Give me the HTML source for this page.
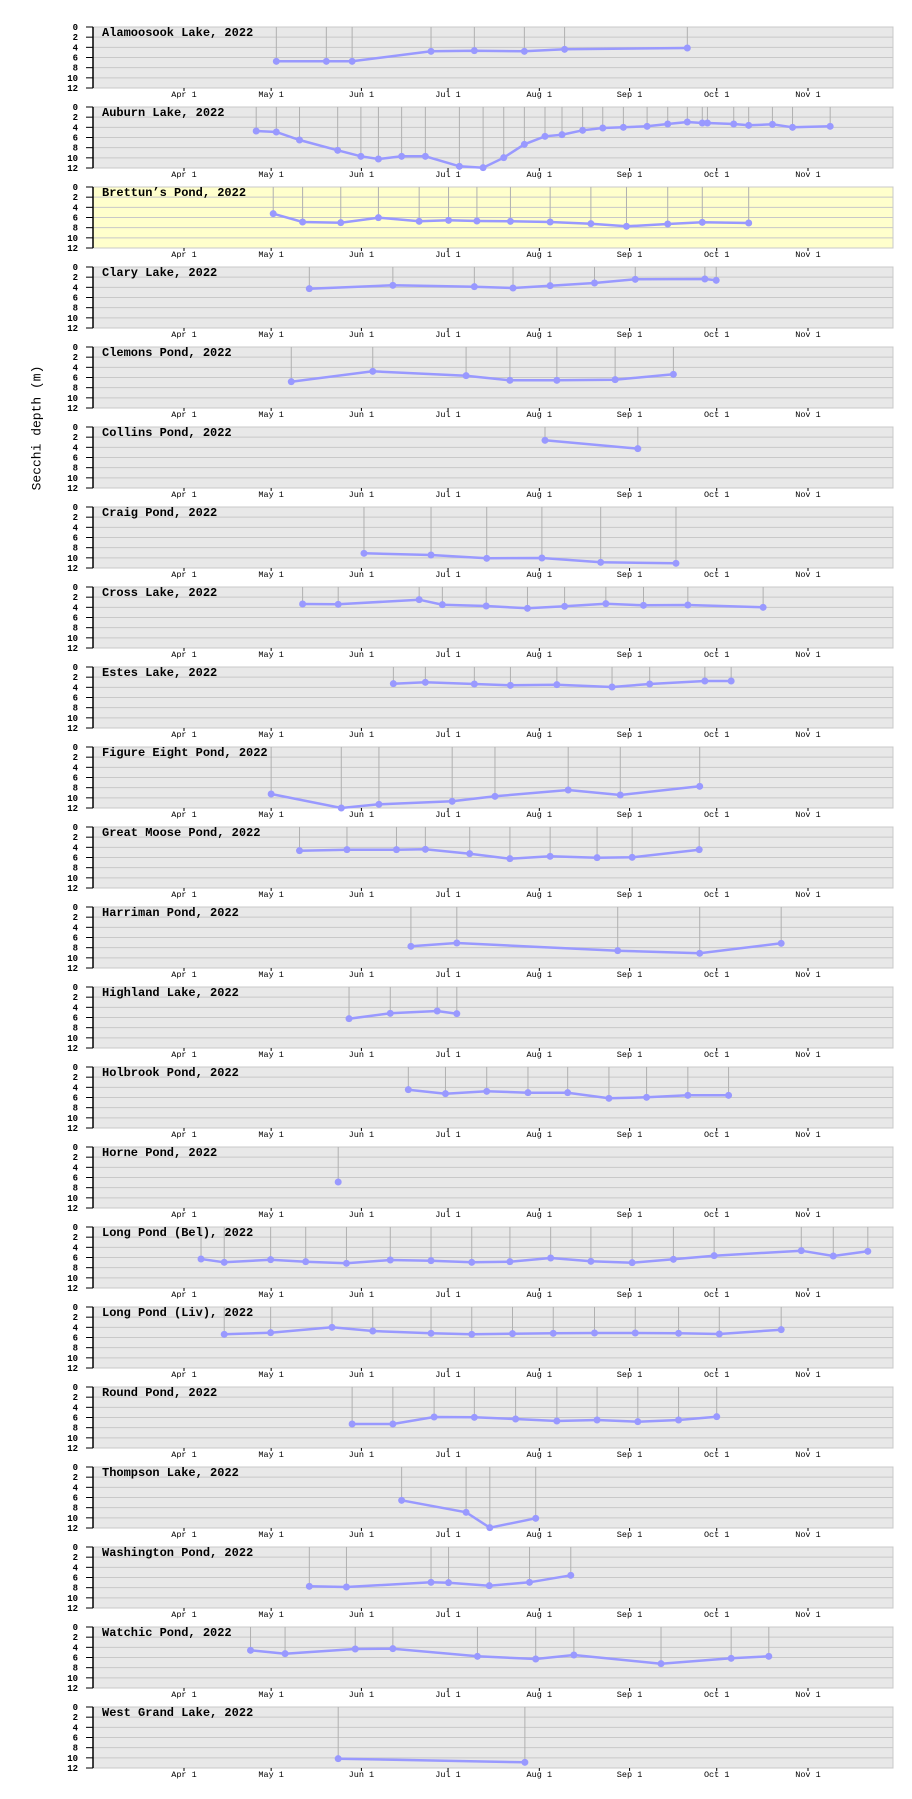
<!DOCTYPE html>
<html><head><meta charset="utf-8"><style>
html,body{margin:0;padding:0;background:#fff;width:912px;height:1799px;overflow:hidden}
svg{display:block}
</style></head><body>
<svg id="s" width="912" height="1799" xmlns="http://www.w3.org/2000/svg">
<text x="37" y="428" transform="rotate(-90 37 428)" text-anchor="middle" dominant-baseline="middle" font-family="Liberation Mono, monospace" font-size="13" fill="#000">Secchi depth (m)</text>
</svg>
<script>
var D=[
["Alamoosook Lake, 2022",0,[[361,125],[458,125],[508,125],[661,95],[745,93],[842,95],[920,89],[1158,85]]],
["Auburn Lake, 2022",1,[[322,334],[361,337],[406,361],[480,392],[525,410],[559,418],[604,410],[650,410],[716,440],[762,444],[802,414],[842,374],[882,350],[915,345],[955,332],[994,325],[1034,323],[1080,320],[1120,313],[1158,307],[1187,310],[1197,310],[1248,313],[1277,317],[1323,314],[1362,323],[1435,320]]],
["Brettun\u2019s Pond, 2022",2,[[355,582],[412,607],[486,609],[559,594],[638,605],[695,602],[750,604],[815,605],[892,607],[971,612],[1040,620],[1120,613],[1187,608],[1277,610]]],
["Clary Lake, 2022",0,[[425,87],[587,77],[745,81],[820,85],[892,78],[978,70],[1057,59],[1192,58],[1214,62]]],
["Clemons Pond, 2022",1,[[390,366],[548,335],[729,348],[814,362],[905,362],[1018,360],[1131,344]]],
["Collins Pond, 2022",2,[[882,542],[1062,567]]],
["Craig Pond, 2022",0,[[531,161],[661,166],[769,176],[876,175],[990,188],[1136,191]]],
["Cross Lake, 2022",1,[[412,313],[481,314],[638,300],[683,315],[768,319],[848,326],[920,320],[1000,312],[1073,317],[1159,316],[1305,323]]],
["Estes Lake, 2022",2,[[588,552],[650,548],[745,553],[815,557],[905,555],[1012,562],[1085,553],[1192,544],[1243,544]]],
["Figure Eight Pond, 2022",0,[[351,163],[487,212],[560,194],[702,185],[785,170],[927,151],[1028,166],[1182,140]]],
["Great Moose Pond, 2022",1,[[406,333],[498,330],[594,330],[650,329],[736,342],[814,357],[892,350],[983,354],[1051,353],[1181,330]]],
["Harriman Pond, 2022",2,[[622,620],[711,610],[1023,633],[1182,641],[1340,611]]],
["Highland Lake, 2022",0,[[502,117],[582,101],[673,94],[711,102]]],
["Holbrook Pond, 2022",1,[[617,330],[689,342],[769,335],[849,339],[926,339],[1006,356],[1079,353],[1159,347],[1238,347]]],
["Horne Pond, 2022",2,[[481,607]]],
["Long Pond (Bel), 2022",0,[[215,118],[260,128],[350,120],[418,126],[497,131],[582,121],[661,123],[740,128],[814,126],[893,115],[971,125],[1051,129],[1131,119],[1210,108],[1379,93],[1441,109],[1508,95]]],
["Long Pond (Liv), 2022",1,[[260,344],[350,339],[469,323],[548,334],[661,341],[740,344],[819,342],[898,341],[978,340],[1057,340],[1141,341],[1220,343],[1340,330]]],
["Round Pond, 2022",2,[[508,613],[587,613],[667,592],[745,593],[825,598],[905,604],[983,601],[1062,606],[1141,601],[1215,591]]],
["Thompson Lake, 2022",0,[[604,122],[729,158],[775,204],[864,176]]],
["Washington Pond, 2022",1,[[425,380],[497,382],[661,368],[695,369],[774,378],[852,368],[932,347]]],
["Watchic Pond, 2022",2,[[311,572],[378,582],[514,568],[587,567],[751,590],[864,598],[938,586],[1107,612],[1243,596],[1316,590]]],
["West Grand Lake, 2022",0,[[481,177],[843,188]]]
];
function X(z){return 184+(z-182)*0.5157;}
var months=[["Apr 1",182],["May 1",351],["Jun 1",526],["Jul 1",694],["Aug 1",871],["Sep 1",1046],["Oct 1",1215],["Nov 1",1392]];
var h='';
var L=93,R=893,H=61;
D.forEach(function(p,k){
  var T=27+80*k, B=T+H;
  var fill=(k==2)?'#ffffcc':'#e8e8e8';
  h+='<rect x="'+L+'" y="'+T+'" width="'+(R-L)+'" height="'+H+'" fill="'+fill+'" stroke="#c8c8c8" stroke-width="1"/>';
  for(var i=0;i<=6;i++){
    var y=T+i*H/6;
    if(i>0&&i<6)h+='<line x1="'+L+'" x2="'+R+'" y1="'+y+'" y2="'+y+'" stroke="#c8c8c8" stroke-width="1"/>';
    h+='<line x1="86" x2="93" y1="'+y+'" y2="'+y+'" stroke="#000" stroke-width="1"/>';
    h+='<text x="78" y="'+(y+3)+'" text-anchor="end" font-family="Liberation Mono, monospace" font-size="9" font-weight="bold" fill="#000">'+(i*2)+'</text>';
  }
  h+='<line x1="93" x2="93" y1="'+T+'" y2="'+B+'" stroke="#000" stroke-width="1.5"/>';
  months.forEach(function(m){var x=X(m[1]);
    h+='<line x1="'+x+'" x2="'+x+'" y1="'+B+'" y2="'+(B+3)+'" stroke="#000" stroke-width="1"/>';
    h+='<text x="'+x+'" y="'+(B+9)+'" text-anchor="middle" font-family="Liberation Mono, monospace" font-size="8.5" fill="#000">'+m[0]+'</text>';
  });
  var base=22+240*p[1];
  var pts=p[2].map(function(q){var r=(q[1]-base)/3; if(r>H)r=H; if(r<0)r=0; return [X(q[0]),T+r];});
  pts.forEach(function(q){h+='<line x1="'+q[0]+'" x2="'+q[0]+'" y1="'+T+'" y2="'+q[1]+'" stroke="#b0b0b0" stroke-width="1"/>';});
  if(pts.length>1)h+='<polyline points="'+pts.map(function(q){return q[0].toFixed(1)+','+q[1].toFixed(1)}).join(' ')+'" fill="none" stroke="#9999ff" stroke-width="2.5"/>';
  pts.forEach(function(q){h+='<circle cx="'+q[0]+'" cy="'+q[1]+'" r="3.5" fill="#9999ff"/>';});
  h+='<text x="102" y="'+(T+9)+'" font-family="Liberation Mono, monospace" font-size="12" font-weight="bold" fill="#000">'+p[0]+'</text>';
});
document.getElementById('s').insertAdjacentHTML('beforeend',h);
</script>
</body></html>
